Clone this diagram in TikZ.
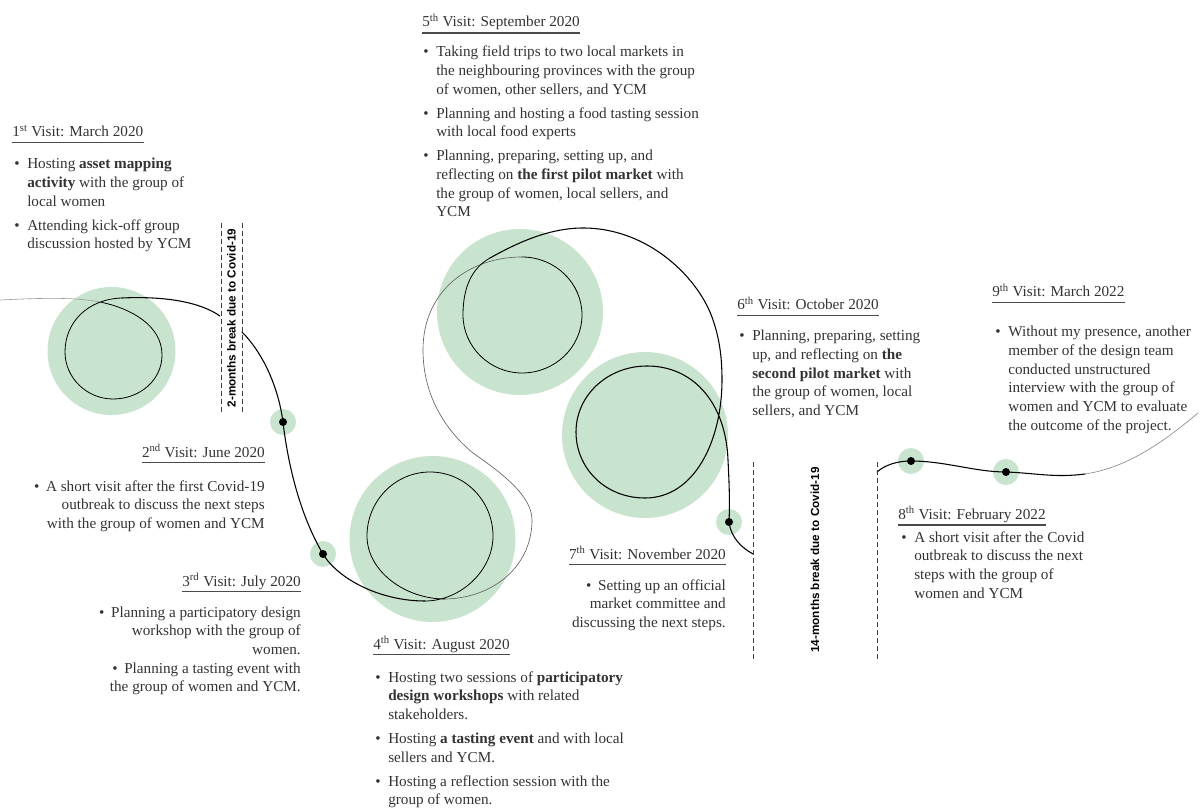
\documentclass[tikz,border=0pt]{standalone}
\usepackage{fontspec}
\setmainfont{Liberation Serif}
\newfontfamily\breakfont{Liberation Sans}
\definecolor{blob}{HTML}{C8E4CF}
\definecolor{ink}{HTML}{333333}
\definecolor{rulegray}{HTML}{4A4A4A}
\newcommand{\bodyfont}{\fontsize{11.4}{14}\selectfont}
\newcommand{\bul}{\textbullet\hspace{5pt}}

\begin{document}
\begin{tikzpicture}[x=0.75pt,y=-0.75pt,
  blobfill/.style={fill=blob},
  dotmark/.style={fill=black},
  route/.style={line width=0.8pt, line cap=round, line join=round},
  looproute/.style={line width=0.6pt, line cap=round, line join=round},
  lightroute/.style={line width=0.5pt, black!60, line cap=round},
  faint/.style={line width=0.45pt, black!40, line cap=round},
  breakline/.style={dash pattern=on 3.5pt off 2.5pt, line width=0.5pt, black!75},
  breaklabel/.style={rotate=90, inner sep=0, font=\breakfont\bfseries\fontsize{8.8}{10}\selectfont},
  visittitle/.style={inner sep=0, text=ink, font=\bodyfont},
  visitbody/.style={inner sep=0, text=ink, font=\bodyfont},
  uline/.style={rulegray, line width=0.9pt}]

\useasboundingbox (0,0) rectangle (1200,809);

% ---- visit spots ----
\coordinate (v1) at (111.5,351);
\coordinate (v2) at (283,422);
\coordinate (v3) at (323,554);
\coordinate (v4) at (432.5,539);
\coordinate (v5) at (520,312);
\coordinate (v6) at (645,435);
\coordinate (v7) at (729,522);
\coordinate (v8) at (911,461);
\coordinate (v9) at (1006,472);

\fill[blobfill] (v1) circle [radius=64];
\fill[blobfill] (v4) circle [radius=83];
\fill[blobfill] (v5) circle [radius=83];
\fill[blobfill] (v6) circle [radius=83];
\foreach \p in {v2,v3,v7,v8,v9} \fill[blobfill] (\p) circle [radius=13];

% ---- route points ----
\coordinate (start) at (0,300);
\coordinate (x1) at (100,302);
\coordinate (r1) at (162,355);
\coordinate (b1) at (113,399);
\coordinate (l1) at (65,352);
\coordinate (t1) at (122,298);
\coordinate (gapA) at (220,316);
\coordinate (gapB) at (242,332);
\coordinate (b4) at (425,601);
\coordinate (r4) at (493,536);
\coordinate (t4) at (430,472);
\coordinate (l4) at (367,536);
\coordinate (x4) at (445,599);
\coordinate (s1) at (532,520);
\coordinate (s2) at (473,453);
\coordinate (s3) at (423,350);
\coordinate (t5) at (522,257);
\coordinate (r5) at (582,315);
\coordinate (b5) at (522,373);
\coordinate (l5) at (463,315);
\coordinate (x5) at (490,258);
\coordinate (a1) at (583,228);
\coordinate (a2) at (713,320);
\coordinate (a3) at (722,380);
\coordinate (b6) at (645,498);
\coordinate (l6) at (576,432);
\coordinate (t6) at (647,366);
\coordinate (a4) at (728,460);
\coordinate (gapC) at (753,554);
\coordinate (gapD) at (877,472);
\coordinate (e1) at (1085,474);
\coordinate (finish) at (1198,413);

% ---- route: first visit loop ----
\draw[faint] (start) .. controls (40,298) and (75,297) .. (x1);
\draw[looproute] (x1) .. controls (130,308) and (162,325) .. (r1)
  .. controls (162,380) and (140,399) .. (b1)
  .. controls (87,399) and (65,378) .. (l1)
  .. controls (65,322) and (88,299) .. (t1);
\draw[route] (t1) .. controls (165,296) and (200,302) .. (gapA);

% ---- route: June to August loop ----
\draw[route] (gapB) .. controls (262,352) and (278,385) .. (v2)
  .. controls (288,465) and (300,515) .. (v3)
  .. controls (338,579) and (380,601) .. (b4);
\draw[looproute] (b4) .. controls (460,601) and (493,571) .. (r4)
  .. controls (493,501) and (465,472) .. (t4)
  .. controls (395,472) and (367,501) .. (l4)
  .. controls (367,571) and (405,599) .. (x4);
\draw[lightroute] (x4) .. controls (495,598) and (532,565) .. (s1)
  .. controls (532,495) and (500,472) .. (s2)
  .. controls (445,430) and (423,395) .. (s3)
  .. controls (423,290) and (470,257) .. (t5);

% ---- route: September and October loops ----
\draw[looproute] (t5) .. controls (555,257) and (582,283) .. (r5)
  .. controls (582,347) and (555,373) .. (b5)
  .. controls (490,373) and (463,347) .. (l5)
  .. controls (463,287) and (472,268) .. (x5);
\draw[route] (x5) .. controls (515,244) and (548,228) .. (a1)
  .. controls (650,228) and (700,280) .. (a2)
  .. controls (720,340) and (722,360) .. (a3)
  .. controls (722,440) and (695,498) .. (b6)
  .. controls (605,498) and (576,468) .. (l6)
  .. controls (576,395) and (608,366) .. (t6)
  .. controls (695,366) and (726,405) .. (a4)
  .. controls (729,480) and (730,500) .. (v7)
  .. controls (731,538) and (742,548) .. (gapC);

% ---- route: 2022 visits ----
\draw[route] (gapD) .. controls (885,465) and (897,461) .. (v8)
  .. controls (945,461) and (975,472) .. (v9)
  .. controls (1035,473) and (1055,478) .. (e1);
\draw[faint, line width=0.5pt, black!45] (e1) .. controls (1125,468) and (1160,445) .. (finish);

\foreach \p in {v2,v3,v7,v8,v9} \fill[dotmark] (\p) circle [radius=4];

% ---- Covid breaks ----
\draw[breakline] (221,223) -- (221,413);
\draw[breakline] (242,223) -- (242,413);
\node[breaklabel] (gap1) at (231.5,318) {2-months break due to Covid-19};

\draw[breakline] (753,462) -- (753,662);
\draw[breakline] (877,462) -- (877,662);
\node[breaklabel] (gap2) at (815,560) {14-months break due to Covid-19};

% ---- 1st visit ----
\node[visittitle, anchor=base west] (h1) at (12,137) {1\textsuperscript{st} Visit: March 2020};
\draw[uline] ([yshift=-4pt]h1.base west) -- ([yshift=-4pt]h1.base east);
\node[visitbody, anchor=base west] (d1) at (14,169) {\begin{tabular}[t]{@{}p{9.75pt}@{}l@{}}
\textbullet & Hosting \textbf{asset mapping}\\
 & \textbf{activity} with the group of\\
 & local women\\[4pt]
\textbullet & Attending kick-off group\\
 & discussion hosted by YCM
\end{tabular}};

% ---- 2nd visit ----
\node[visittitle, anchor=base east] (h2) at (265,457) {2\textsuperscript{nd} Visit: June 2020};
\draw[uline] ([yshift=-4pt]h2.base west) -- ([yshift=-4pt]h2.base east);
\node[visitbody, anchor=base east] (d2) at (265,491) {\begin{tabular}[t]{@{}r@{}}
\bul A short visit after the first Covid-19\\
outbreak to discuss the next steps\\
with the group of women and YCM
\end{tabular}};

% ---- 3rd visit ----
\node[visittitle, anchor=base east] (h3) at (301,586) {3\textsuperscript{rd} Visit: July 2020};
\draw[uline] ([yshift=-4pt]h3.base west) -- ([yshift=-4pt]h3.base east);
\node[visitbody, anchor=base east] (d3) at (301,617) {\begin{tabular}[t]{@{}r@{}}
\bul Planning a participatory design\\
workshop with the group of\\
women.\\
\bul Planning a tasting event with\\
the group of women and YCM.
\end{tabular}};

% ---- 4th visit ----
\node[visittitle, anchor=base west] (h4) at (373,649) {4\textsuperscript{th} Visit: August 2020};
\draw[uline] ([yshift=-4pt]h4.base west) -- ([yshift=-4pt]h4.base east);
\node[visitbody, anchor=base west] (d4) at (375,682) {\begin{tabular}[t]{@{}p{9.75pt}@{}l@{}}
\textbullet & Hosting two sessions of \textbf{participatory}\\
 & \textbf{design workshops} with related\\
 & stakeholders.\\[4pt]
\textbullet & Hosting \textbf{a tasting event} and with local\\
 & sellers and YCM.\\[4pt]
\textbullet & Hosting a reflection session with the\\
 & group of women.
\end{tabular}};

% ---- 5th visit ----
\node[visittitle, anchor=base west] (h5) at (422,27) {5\textsuperscript{th} Visit: September 2020};
\draw[uline] ([yshift=-4.5pt]h5.base west) -- ([yshift=-4.5pt]h5.base east);
\node[visitbody, anchor=base west] (d5) at (423,57) {\begin{tabular}[t]{@{}p{9.75pt}@{}l@{}}
\textbullet & Taking field trips to two local markets in\\
 & the neighbouring provinces with the group\\
 & of women, other sellers, and YCM\\[4pt]
\textbullet & Planning and hosting a food tasting session\\
 & with local food experts\\[4pt]
\textbullet & Planning, preparing, setting up, and\\
 & reflecting on \textbf{the first pilot market} with\\
 & the group of women, local sellers, and\\
 & YCM
\end{tabular}};

% ---- 6th visit ----
\node[visittitle, anchor=base west] (h6) at (737,310) {6\textsuperscript{th} Visit: October 2020};
\draw[uline] ([yshift=-4pt]h6.base west) -- ([yshift=-4pt]h6.base east);
\node[visitbody, anchor=base west] (d6) at (739,341) {\begin{tabular}[t]{@{}p{9.75pt}@{}l@{}}
\textbullet & Planning, preparing, setting\\
 & up, and reflecting on \textbf{the}\\
 & \textbf{second pilot market} with\\
 & the group of women, local\\
 & sellers, and YCM
\end{tabular}};

% ---- 7th visit ----
\node[visittitle, anchor=base east] (h7) at (726,559) {7\textsuperscript{th} Visit: November 2020};
\draw[uline] ([yshift=-4pt]h7.base west) -- ([yshift=-4pt]h7.base east);
\node[visitbody, anchor=base east] (d7) at (726,590) {\begin{tabular}[t]{@{}r@{}}
\bul Setting up an official\\
market committee and\\
discussing the next steps.
\end{tabular}};

% ---- 8th visit ----
\node[visittitle, anchor=base west] (h8) at (898,519) {8\textsuperscript{th} Visit: February 2022};
\draw[uline] ([yshift=-4.5pt]h8.base west) -- ([yshift=-4.5pt]h8.base east);
\node[visitbody, anchor=base west] (d8) at (901,542) {\begin{tabular}[t]{@{}p{9.75pt}@{}l@{}}
\textbullet & A short visit after the Covid\\
 & outbreak to discuss the next\\
 & steps with the group of\\
 & women and YCM
\end{tabular}};

% ---- 9th visit ----
\node[visittitle, anchor=base west] (h9) at (992,297) {9\textsuperscript{th} Visit: March 2022};
\draw[uline] ([yshift=-4pt]h9.base west) -- ([yshift=-4pt]h9.base east);
\node[visitbody, anchor=base west] (d9) at (995,337) {\begin{tabular}[t]{@{}p{9.75pt}@{}l@{}}
\textbullet & Without my presence, another\\
 & member of the design team\\
 & conducted unstructured\\
 & interview with the group of\\
 & women and YCM to evaluate\\
 & the outcome of the project.
\end{tabular}};

\end{tikzpicture}
\end{document}
